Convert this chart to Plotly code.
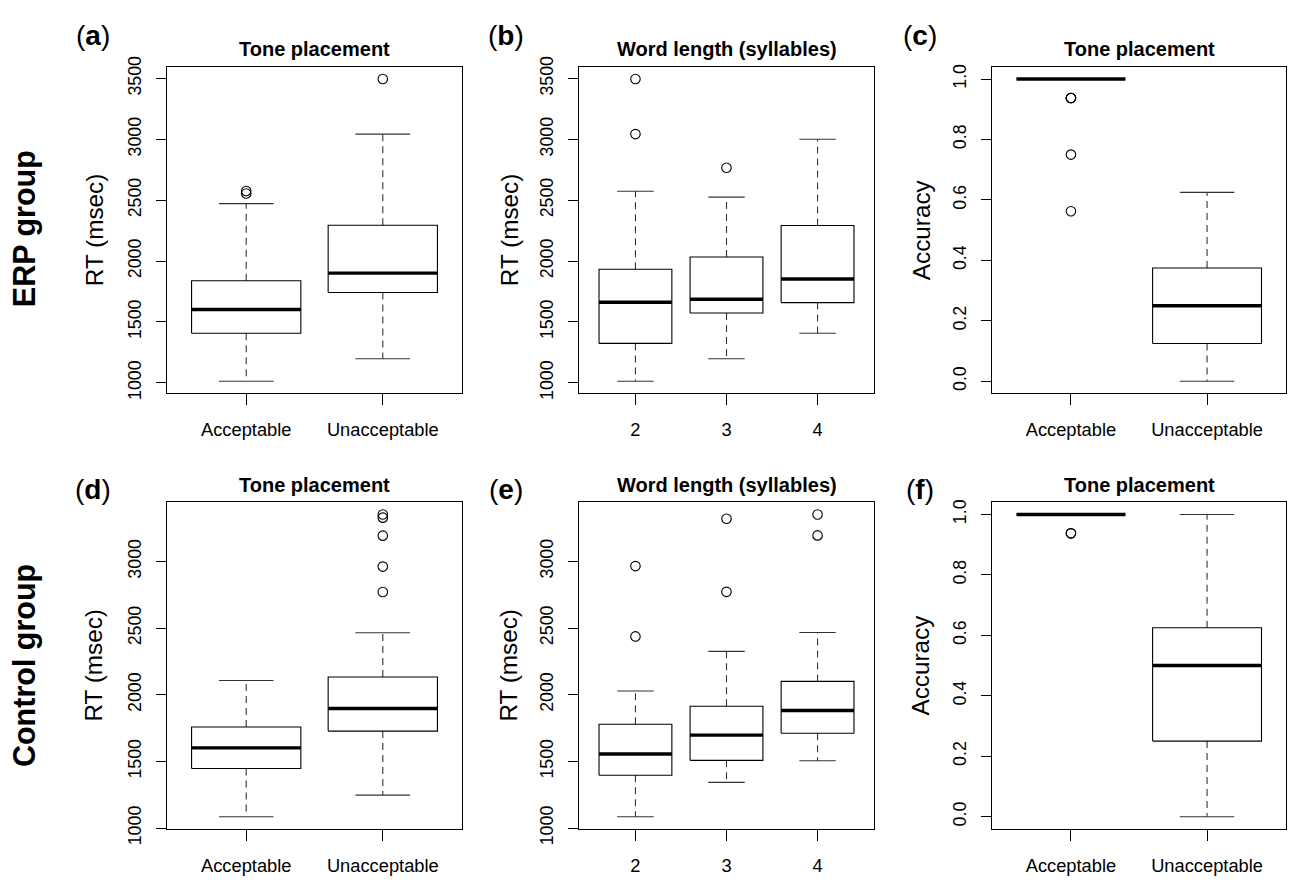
import plotly.graph_objects as go

W, H = 1295, 892
FONT = "Liberation Sans, Arial, sans-serif"

# ---------------- data ----------------
tone_labels = ["Acceptable", "Unacceptable"]
length_labels = ["2", "3", "4"]

# (a) ERP group - RT by tone placement
a_low = [1013, 1198]
a_q1 = [1407, 1742]
a_med = [1603, 1901]
a_q3 = [1838, 2294]
a_up = [2472, 3043]
a_out = [[2576, 2555], [3495]]

# (b) ERP group - RT by word length
b_low = [1013, 1198, 1407]
b_q1 = [1324, 1574, 1659]
b_med = [1662, 1686, 1853]
b_q3 = [1933, 2034, 2292]
b_up = [2573, 2525, 3001]
b_out = [[3495, 3043], [2767], []]

# (c) ERP group - accuracy by tone placement
c_low = [1.0, 0.0]
c_q1 = [1.0, 0.125]
c_med = [1.0, 0.25]
c_q3 = [1.0, 0.375]
c_up = [1.0, 0.625]
c_out = [[0.9375, 0.9375, 0.9375, 0.75, 0.5625], []]

# (d) Control group - RT by tone placement
d_low = [1086, 1248]
d_q1 = [1447, 1728]
d_med = [1602, 1897]
d_q3 = [1759, 2134]
d_up = [2108, 2466]
d_out = [[], [3353, 3329, 3194, 2962, 2771]]

# (e) Control group - RT by word length
e_low = [1086, 1343, 1505]
e_q1 = [1396, 1508, 1711]
e_med = [1556, 1697, 1882]
e_q3 = [1779, 1914, 2100]
e_up = [2028, 2325, 2466]
e_out = [[2964, 2437], [3319, 2771], [3351, 3194]]

# (f) Control group - accuracy by tone placement
f_low = [1.0, 0.0]
f_q1 = [1.0, 0.25]
f_med = [1.0, 0.5]
f_q3 = [1.0, 0.625]
f_up = [1.0, 1.0]
f_out = [[0.9375, 0.9375], []]

rt_ticks_top = [1000, 1500, 2000, 2500, 3000, 3500]
rt_ticks_bot = [1000, 1500, 2000, 2500, 3000]
acc_ticks = [0.0, 0.2, 0.4, 0.6, 0.8, 1.0]

panels = [
    dict(lab="a", title="Tone placement", ytitle="RT (msec)", cats=tone_labels,
         s=(a_low, a_q1, a_med, a_q3, a_up, a_out), yt=rt_ticks_top, fmt="d"),
    dict(lab="b", title="Word length (syllables)", ytitle="RT (msec)", cats=length_labels,
         s=(b_low, b_q1, b_med, b_q3, b_up, b_out), yt=rt_ticks_top, fmt="d"),
    dict(lab="c", title="Tone placement", ytitle="Accuracy", cats=tone_labels,
         s=(c_low, c_q1, c_med, c_q3, c_up, c_out), yt=acc_ticks, fmt=".1f"),
    dict(lab="d", title="Tone placement", ytitle="RT (msec)", cats=tone_labels,
         s=(d_low, d_q1, d_med, d_q3, d_up, d_out), yt=rt_ticks_bot, fmt="d"),
    dict(lab="e", title="Word length (syllables)", ytitle="RT (msec)", cats=length_labels,
         s=(e_low, e_q1, e_med, e_q3, e_up, e_out), yt=rt_ticks_bot, fmt="d"),
    dict(lab="f", title="Tone placement", ytitle="Accuracy", cats=tone_labels,
         s=(f_low, f_q1, f_med, f_q3, f_up, f_out), yt=acc_ticks, fmt=".1f"),
]

# ---------------- layout geometry (pixels) ----------------
col_px = [(167, 462), (579, 874), (992, 1286)]
row_px = [(57.7, 394.3), (506.7, 843.3)]
ytitle_x = [94, 509, 921]
lab_x = [92.5, 506, 920]
title_y = [39.5, 488.5]
lab_y = [25.5, 493.5]

fig = go.Figure()
annotations = []
LINE = "#000000"
WHISK = "#333333"

def px_x(x):
    return x / W

def px_y(y):
    return 1 - y / H

for i, p in enumerate(panels):
    r, c = divmod(i, 3)
    n = i + 1
    xa = "x" if n == 1 else f"x{n}"
    ya = "y" if n == 1 else f"y{n}"
    low, q1, med, q3, up, out = p["s"]
    ncat = len(p["cats"])
    for k in range(ncat):
        xc = k + 1
        # whiskers (dashed)
        fig.add_trace(go.Scatter(
            x=[xc, xc, None, xc, xc],
            y=[q3[k], up[k], None, q1[k], low[k]],
            mode="lines", line=dict(color=WHISK, width=1.1, dash="7px,5px"),
            xaxis=xa, yaxis=ya, showlegend=False, hoverinfo="skip"))
        # staples
        fig.add_trace(go.Scatter(
            x=[xc - 0.2, xc + 0.2, None, xc - 0.2, xc + 0.2],
            y=[up[k], up[k], None, low[k], low[k]],
            mode="lines", line=dict(color=WHISK, width=1.1),
            xaxis=xa, yaxis=ya, showlegend=False, hoverinfo="skip"))
        # box
        fig.add_trace(go.Scatter(
            x=[xc - 0.4, xc + 0.4, xc + 0.4, xc - 0.4, xc - 0.4],
            y=[q1[k], q1[k], q3[k], q3[k], q1[k]],
            mode="lines", line=dict(color=LINE, width=1.1),
            xaxis=xa, yaxis=ya, showlegend=False, hoverinfo="skip"))
        # median
        fig.add_trace(go.Scatter(
            x=[xc - 0.4, xc + 0.4], y=[med[k], med[k]],
            mode="lines", line=dict(color=LINE, width=3.4),
            xaxis=xa, yaxis=ya, showlegend=False, hoverinfo="skip"))
        # outliers
        if out[k]:
            fig.add_trace(go.Scatter(
                x=[xc] * len(out[k]), y=out[k], mode="markers",
                marker=dict(symbol="circle-open", size=9.5, color=LINE,
                            line=dict(width=1.1, color=LINE)),
                xaxis=xa, yaxis=ya, showlegend=False, hoverinfo="skip"))

    # data-driven y range, extended by 4% like R
    allv = low + up + [v for o in out for v in o]
    vmin, vmax = min(allv), max(allv)
    pad = 0.04 * (vmax - vmin)
    x0, x1 = col_px[c]
    y0, y1 = row_px[r]
    xkey = "xaxis" if n == 1 else f"xaxis{n}"
    ykey = "yaxis" if n == 1 else f"yaxis{n}"
    fig.layout[xkey] = dict(
        domain=[px_x(x0), px_x(x1)], anchor=ya,
        range=[0.5 - 0.04 * ncat, ncat + 0.5 + 0.04 * ncat],
        tickmode="array", tickvals=list(range(1, ncat + 1)), ticktext=p["cats"],
        showline=True, mirror=True, linecolor=LINE, linewidth=1,
        ticks="outside", ticklen=11, tickcolor=LINE, tickwidth=1,
        showgrid=False, zeroline=False,
        tickfont=dict(family=FONT, size=18.3, color="#000"),
        ticklabelstandoff=9, fixedrange=True)
    fig.layout[ykey] = dict(
        domain=[px_y(y1), px_y(y0)], anchor=xa,
        range=[vmin - pad, vmax + pad],
        tickmode="array", tickvals=p["yt"],
        tickformat=p["fmt"],
        showline=True, mirror=True, linecolor=LINE, linewidth=1,
        ticks="outside", ticklen=10, tickcolor=LINE, tickwidth=1,
        showgrid=False, zeroline=False, tickangle=-90,
        tickfont=dict(family=FONT, size=17.8, color="#000"),
        ticklabelstandoff=8, fixedrange=True)

    # panel title
    annotations.append(dict(
        text=f"<b>{p['title']}</b>", x=px_x((x0 + x1) / 2), y=px_y(title_y[r]),
        xref="paper", yref="paper", xanchor="center", yanchor="middle",
        showarrow=False, font=dict(family=FONT, size=20, color="#000")))
    # y axis title
    annotations.append(dict(
        text=p["ytitle"], x=px_x(ytitle_x[c]), y=px_y((y0 + y1) / 2),
        xref="paper", yref="paper", xanchor="center", yanchor="middle",
        textangle=-90, showarrow=False,
        font=dict(family=FONT, size=24.3, color="#000")))
    # panel letter
    annotations.append(dict(
        text=f"(<b>{p['lab']}</b>)", x=px_x(lab_x[c]), y=px_y(lab_y[r]),
        xref="paper", yref="paper", xanchor="center", yanchor="middle",
        showarrow=False, font=dict(family=FONT, size=28, color="#000")))

row_titles = ["ERP group", "Control group"]
row_title_y = [225, 675.5]
for r, t in enumerate(row_titles):
    annotations.append(dict(
        text=f"<b>{t}</b>", x=px_x(24), y=px_y(row_title_y[r]),
        xref="paper", yref="paper", xanchor="center", yanchor="middle",
        textangle=-90, showarrow=False,
        font=dict(family=FONT, size=30.5, color="#000")))

fig.update_layout(
    width=W, height=H, margin=dict(l=0, r=0, t=0, b=0, pad=0),
    paper_bgcolor="white", plot_bgcolor="white",
    annotations=annotations, showlegend=False)

fig.write_html("out.html", config={"displayModeBar": False},
               post_script="document.body.style.margin='0';document.body.style.padding='0';")
